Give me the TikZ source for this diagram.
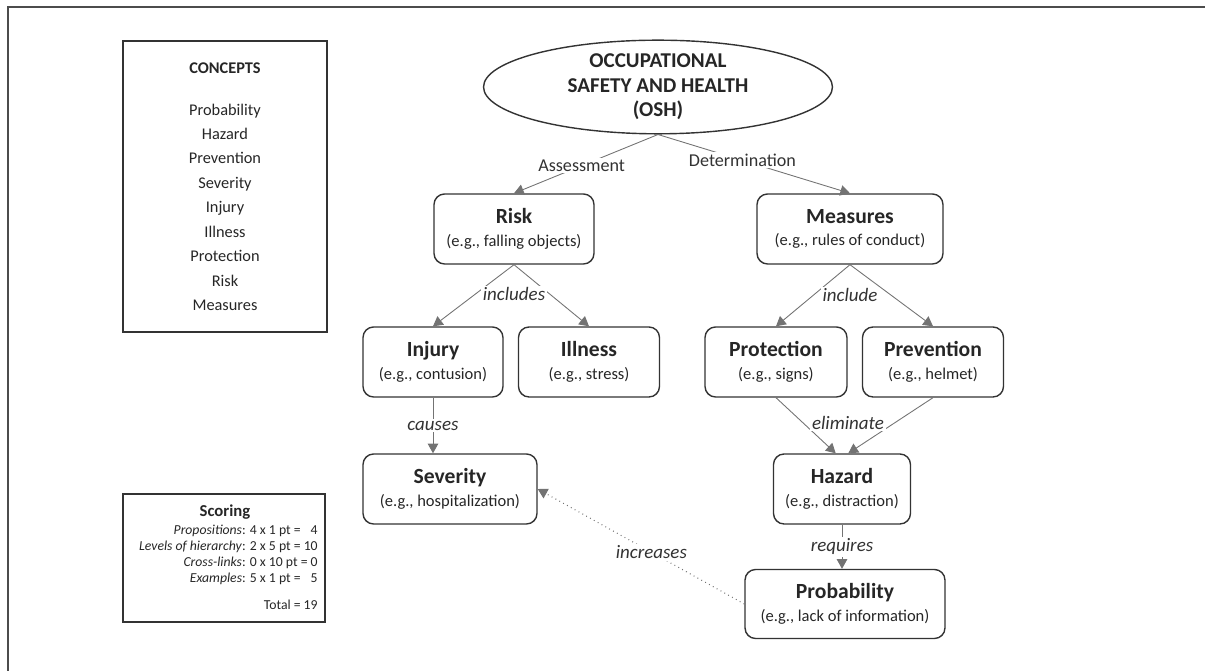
\documentclass[tikz,border=0pt]{standalone}
\usepackage{fontspec}
\setmainfont{Carlito}
\usetikzlibrary{shapes.geometric,arrows.meta}

\newcommand{\cpt}[2]{{\fontsize{12.3}{13}\selectfont\bfseries #1}\\[1pt]{\fontsize{9.4}{10}\selectfont #2}}

\tikzset{
  box/.style={draw=black!80, line width=0.8pt, rounded corners=6pt, align=center,
    minimum height=1.4cm, inner sep=2pt, text=black!85},
  link/.style={fill=white, inner sep=1pt, text=black!80,
    font=\fontsize{10.8}{12}\selectfont\itshape},
  arr/.style={draw=black!55, line width=0.5pt, -{Triangle[width=6pt,length=5.5pt]}},
}

\begin{document}
\begin{tikzpicture}[x=0.02cm, y=-0.02cm]
    \useasboundingbox (0, 0) rectangle (1205, 671);

    % Frame
    \draw [line width=1.2pt, black!70] (8, 671) -- (8, 7) -- (1205, 7);

    % Concepts list
    \node [draw=black!80, line width=1pt, minimum width=4.08cm, minimum height=5.82cm,
      align=center, text=black!85, font=\fontsize{9.3}{13.9}\selectfont] (list) at (225, 186.5)
      {{\bfseries\fontsize{9.3}{11}\selectfont CONCEPTS}\\[10pt]
       Probability\\Hazard\\Prevention\\Severity\\Injury\\Illness\\Protection\\Risk\\Measures};

    % Scoring
    \node [draw=black!80, line width=1pt, minimum width=4.04cm, minimum height=2.56cm] (score) at (224, 558) {};
    \node [text=black!85, font=\fontsize{9.5}{11}\selectfont\bfseries] (scoretitle) at (225, 512) {Scoring};
    \node [anchor=north east, align=right, inner sep=0pt, text=black!85,
      font=\fontsize{7.8}{9.1}\selectfont] (points) at (318, 525)
      {\textit{Propositions}: 4 x 1 pt = \phantom{1}4\\
       \textit{Levels of hierarchy}: 2 x 5 pt = 10\\
       \textit{Cross-links}: 0 x 10 pt = 0\\
       \textit{Examples}: 5 x 1 pt = \phantom{1}5\\[6pt]
       Total = 19};

    % Top concept
    \node [draw=black!80, line width=0.8pt, ellipse, minimum width=6.98cm, minimum height=1.84cm,
      inner sep=0pt, align=center, text=black!85, font=\fontsize{12}{14}\selectfont\bfseries] (osh) at (658, 87)
      {OCCUPATIONAL\\SAFETY AND HEALTH\\(OSH)};

    % Concepts
    \node [box, minimum width=3.2cm] (risk) at (514, 229) {\cpt{Risk}{(e.g., falling objects)}};
    \node [box, minimum width=3.72cm] (measures) at (850, 229) {\cpt{Measures}{(e.g., rules of conduct)}};
    \node [box, minimum width=2.8cm] (injury) at (433, 362) {\cpt{Injury}{(e.g., contusion)}};
    \node [box, minimum width=2.82cm] (illness) at (589, 362) {\cpt{Illness}{(e.g., stress)}};
    \node [box, minimum width=2.84cm] (protection) at (776, 362) {\cpt{Protection}{(e.g., signs)}};
    \node [box, minimum width=2.82cm] (prevention) at (933, 362) {\cpt{Prevention}{(e.g., helmet)}};
    \node [box, minimum width=3.48cm] (severity) at (450, 489) {\cpt{Severity}{(e.g., hospitalization)}};
    \node [box, minimum width=2.74cm] (hazard) at (842, 489) {\cpt{Hazard}{(e.g., distraction)}};
    \node [box, minimum width=4cm, minimum height=1.38cm] (probability) at (845, 604) {\cpt{Probability}{(e.g., lack of information)}};

    % Links
    \draw [arr] (osh.south) -- (risk.north) node [link, pos=0.53, font=\fontsize{10.3}{12}\selectfont] {Assessment};
    \draw [arr] (osh.south) -- (measures.north) node [link, pos=0.44, font=\fontsize{10.3}{12}\selectfont] {Determination};

    \draw [arr] (risk.south) -- (injury.north);
    \draw [arr] (risk.south) -- (illness.north);
    \node [link] (includes) at (514, 294) {includes};

    \draw [arr] (measures.south) -- (protection.north);
    \draw [arr] (measures.south) -- (prevention.north);
    \node [link] (include) at (850, 295) {include};

    \draw [arr] (injury.south) -- (injury.south |- severity.north) node [link, midway] {causes};

    \draw [arr] (protection.south) -- (hazard.100);
    \draw [arr] (prevention.south) -- (hazard.80);
    \node [link] (eliminate) at (848, 423) {eliminate};

    \draw [arr] (hazard.south) -- (hazard.south |- probability.north) node [link, midway] {requires};

    % Cross-link
    \draw [arr, dotted, line width=0.6pt] (probability.west) -- (severity.east) node [link, pos=0.45] {increases};
  \end{tikzpicture}
\end{document}
